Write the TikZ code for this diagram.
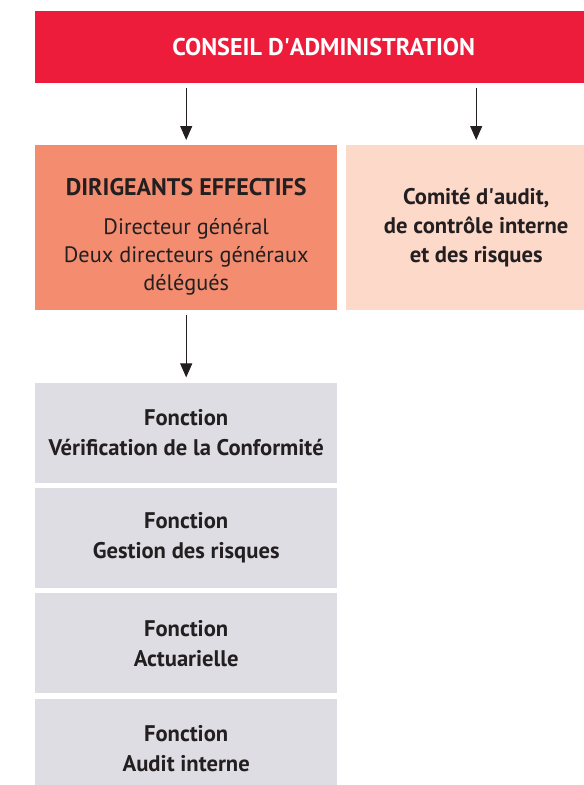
\documentclass[tikz,border=0pt]{standalone}
\usepackage{fontspec}
\setmainfont{PT Sans}
\usetikzlibrary{positioning, arrows.meta}
\definecolor{boardRed}{HTML}{ED1C3A}
\definecolor{leadSalmon}{HTML}{F48D70}
\definecolor{auditPeach}{HTML}{FDD9CA}
\definecolor{funcGray}{HTML}{DEDDE3}
\definecolor{inkColor}{HTML}{231F20}

\tikzset{
    box/.style={rectangle, inner sep=0pt, align=center, text=inkColor,
        anchor=north west},
    funcbox/.style={rectangle, inner sep=0pt, align=center, text=inkColor,
        fill=funcGray, minimum width=302pt, minimum height=100pt,
        font=\bfseries\fontsize{22.6}{30}\selectfont},
    flow/.style={-{Triangle[width=12pt,length=14pt]}, inkColor, line width=1.1pt,
        shorten <=5pt, shorten >=5pt}
}

\begin{document}
\begin{tikzpicture}[x=1pt, y=-1pt]

    \clip (0,0) rectangle (584,785);

    \node[box, fill=boardRed, text=white, minimum width=577pt, minimum height=72pt,
        font=\bfseries\fontsize{24.2}{28}\selectfont] (board) at (35,11)
        {CONSEIL D\textquotesingle ADMINISTRATION};

    \node[box, fill=leadSalmon, minimum width=302pt, minimum height=165pt,
        font=\fontsize{22.3}{28}\selectfont] (lead) at (35,145)
        {\rule{0pt}{35pt}{\bfseries\fontsize{24}{28}\selectfont DIRIGEANTS EFFECTIFS}\\[11pt]
         Directeur général\\Deux directeurs généraux\\délégués};

    \node[box, fill=auditPeach, minimum width=260pt, minimum height=165pt,
        font=\bfseries\fontsize{22.6}{29}\selectfont] (audit) at (346,145)
        {Comité d\textquotesingle audit,\\de contrôle interne\\et des risques};

    % fonctions clés
    \node[funcbox, below=72pt of lead] (conf) {Fonction\\Vérification de la Conformité};
    \node[funcbox, below=5pt of conf] (risk) {Fonction\\Gestion des risques};
    \node[funcbox, below=5pt of risk] (actu) {Fonction\\Actuarielle};
    \node[funcbox, below=5pt of actu] (intaudit) {Fonction\\Audit interne};

    \draw[flow] (board.south -| lead.north) -- (lead.north);
    \draw[flow] (board.south -| audit.north) -- (audit.north);
    \draw[flow] (lead.south) -- (conf.north);
\end{tikzpicture}
\end{document}
